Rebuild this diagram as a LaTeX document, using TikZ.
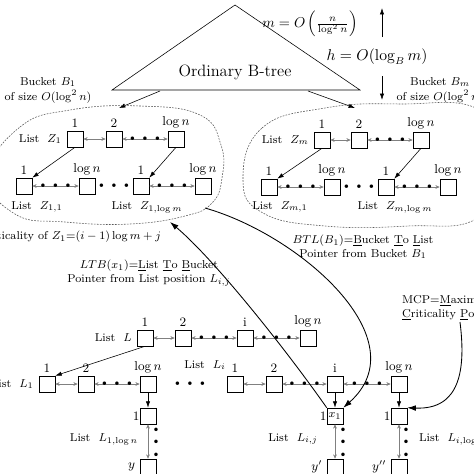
\documentclass[tikz,border=0pt]{standalone}
\usepackage{amsmath, amssymb}
\usetikzlibrary{arrows.meta}
\newcommand{\tdots}{{\tiny$\bullet$\hspace{5pt}$\bullet$\hspace{5pt}$\bullet$}}

\begin{document}
\begin{tikzpicture}[x=0.7pt, y=-0.7pt, font=\footnotesize,
		box/.style={draw, fill=white, minimum size=11.2pt, inner sep=0pt},
		num/.style={font=\small, inner sep=1pt, label distance=1pt},
		link/.style={gray, {Stealth[length=3pt,width=2.6pt]}-{Stealth[length=3pt,width=2.6pt]}},
		dots/.style={text=black, inner sep=0pt},
		ptr/.style={-{Latex[length=4.5pt,width=3pt]}},
		curve/.style={semithick, -{Latex[length=6pt,width=4pt]}},
		blob/.style={gray!70!black, dash pattern=on 1.2pt off 0.9pt}]
		\useasboundingbox (0,0) rectangle (474,474);
		% B-tree and its height
		\coordinate (apex) at (235,5);
		\coordinate (tbl) at (112,90);
		\coordinate (tbr) at (360,90);
		\draw (apex) -- (tbl) -- (tbr) -- cycle;
		\node[font=\fontsize{11.5}{13}\selectfont] (btree) at (235,72) {Ordinary B-tree};
		\node[font=\fontsize{10}{12}\selectfont, inner sep=1pt] (mlbl) at (310,24) {$m=O\left(\frac{n}{\log^2 n}\right)$};
		\node[font=\fontsize{10.5}{12}\selectfont] (hlbl) at (377,57) {$h=O(\log_B m)$};
		\coordinate (hup) at (382,37);
		\coordinate (htop) at (382,8);
		\coordinate (hdn) at (382,76);
		\coordinate (hbot) at (382,100);
		\draw[ptr] (hup) -- (htop);
		\draw[ptr] (hdn) -- (hbot);
		\node[align=center] (b1lbl) at (48,90) {Bucket $B_1$\\[1pt]of size $O(\log^2 n)$};
		\node[align=center] (bmlbl) at (440,90) {Bucket $B_m$\\[1pt]of size $O(\log^2 n)$};
		\coordinate (tl) at (160,91);
		\coordinate (b1in) at (119,108);
		\coordinate (tr) at (308,91);
		\coordinate (bmin) at (355,108);
		\draw[ptr] (tl) -- (b1in);
		\draw[ptr] (tr) -- (bmin);
		% buckets
		\draw[blob] plot[smooth cycle, tension=0.75] coordinates {(-12,175) (20,127) (70,110) (140,106) (200,115) (221,145) (222,178) (212,203) (185,216) (130,224) (65,222) (15,214)};
		\draw[blob] plot[smooth cycle, tension=0.75] coordinates {(243,180) (262,128) (325,108) (400,104) (480,110) (512,165) (478,218) (408,226) (325,226) (263,213)};
		% bucket B_1
		\node[box, label={[num]above:$1$}] (z1a) at (75,139) {};
		\node[box, label={[num]above:$2$}] (z1b) at (114,139) {};
		\node[box, label={[num]above:$\log n$}] (z1c) at (176,139) {};
		\node[left] (z1lbl) at (z1a.west) {List\ \ $Z_1$};
		\node[box, label={[num]above:$1$}] (z11a) at (24,186) {};
		\node[box, label={[num]above:$\log n$}] (z11b) at (87,186) {};
		\node[dots] (z1dots) at (114,186) {\tdots};
		\node[box, label={[num]above:$1$}] (z1ma) at (141,186) {};
		\node[box, label={[num]above:$\log n$}] (z1mb) at (203,186) {};
		\node (z11lbl) at (37,207) {List\ \ $Z_{1,1}$};
		\node (z1mlbl) at (147,207) {List\ \ $Z_{1,\log m}$};
		\draw[link] (z1a) -- (z1b);
		\draw[link] (z1b) -- node[dots] {\tdots} (z1c);
		\draw[link] (z11a) -- node[dots] {\tdots} (z11b);
		\draw[link] (z1ma) -- node[dots] {\tdots} (z1mb);
		\draw[ptr] (z1a.south) -- (z11a.north east);
		\draw[ptr] (z1c.south) -- (z1ma.north east);
		% bucket B_m
		\node[box, label={[num]above:$1$}] (zma) at (322,140) {};
		\node[box, label={[num]above:$2$}] (zmb) at (359,140) {};
		\node[box, label={[num]above:$\log n$}] (zmc) at (421,140) {};
		\node[left] (zmlbl) at (zma.west) {List\ \ $Z_m$};
		\node[box, label={[num]above:$1$}] (zm1a) at (269,187) {};
		\node[box, label={[num]above:$\log n$}] (zm1b) at (332,187) {};
		\node[dots] (zmdots) at (359,187) {\tdots};
		\node[box, label={[num]above:$1$}] (zmma) at (386,187) {};
		\node[box, label={[num]above:$\log n$}] (zmmb) at (448,187) {};
		\node (zm1lbl) at (280,207) {List\ \ $Z_{m,1}$};
		\node (zmmlbl) at (395,207) {List\ \ $Z_{m,\log m}$};
		\draw[link] (zma) -- (zmb);
		\draw[link] (zmb) -- node[dots] {\tdots} (zmc);
		\draw[link] (zm1a) -- node[dots] {\tdots} (zm1b);
		\draw[link] (zmma) -- node[dots] {\tdots} (zmmb);
		\draw[ptr] (zma.south) -- (zm1a.north east);
		\draw[ptr] (zmc.south) -- (zmma.north east);
		% texts
		\node[anchor=east] (crit) at (166,237) {Criticality of $Z_1$=$(i-1)\log m+j$};
		\node[align=center] (ltb) at (149,273) {$LTB(x_1)$=\underline{L}ist \underline{T}o \underline{B}ucket\\Pointer from List position $L_{i,j}$};
		\node[align=center] (btl) at (363,247) {$BTL(B_1)$=\underline{B}ucket \underline{T}o \underline{L}ist\\Pointer from Bucket $B_1$};
		\node[align=left, anchor=west] (mcp) at (397,308) {MCP=\underline{M}aximum\\\underline{C}riticality \underline{P}oint};
		% list L
		\node[box, label={[num]above:$1$}] (la) at (145,338) {};
		\node[box, label={[num]above:$2$}] (lb) at (183,338) {};
		\node[box, label={[num]above:i}] (lc) at (245,338) {};
		\node[box, label={[num]above:$\log n$}] (ld) at (308,338) {};
		\node[left] (llbl) at (la.west) {List\ \ $L$};
		\draw[link] (la) -- (lb);
		\draw[link] (lb) -- node[dots] {\tdots} (lc);
		\draw[link] (lc) -- node[dots] {\tdots} (ld);
		% lists L_1 and L_i
		\node[box, label={[num]above:$1$}] (l1a) at (47,384) {};
		\node[box, label={[num]above:$2$}] (l1b) at (86,384) {};
		\node[box, label={[num]above:$\log n$}] (l1c) at (148,384) {};
		\node[left] (l1lbl) at (l1a.west) {List\ \ $L_1$};
		\node[dots] (ldots) at (190,384) {\tdots};
		\node (lilbl) at (205,365) {List\ \ $L_i$};
		\node[box, label={[num]above:$1$}] (lia) at (235,384) {};
		\node[box, label={[num]above:$2$}] (lib) at (274,384) {};
		\node[box, label={[num]above:i}] (lic) at (335,384) {};
		\node[box, label={[num]above:$\log n$}] (lid) at (399,384) {};
		\draw[ptr] (la.south) -- (l1a.north east);
		\draw[link] (l1a) -- (l1b);
		\draw[link] (l1b) -- node[dots] {\tdots} (l1c);
		\draw[link] (lia) -- (lib);
		\draw[link] (lib) -- node[dots] {\tdots} (lic);
		\draw[link] (lic) -- node[dots] {\tdots} (lid);
		% columns
		\node[box, label={[num, label distance=-1pt]left:1}] (c1) at (148,416) {};
		\node[box, label={[num, label distance=-1pt]left:1}] (ci) at (335,416) {$x_1$};
		\node[box, label={[num, label distance=-1pt]left:1}] (cn) at (399,416) {};
		\node[box, label={[num, label distance=2pt]left:$y$}] (e1) at (148,467) {};
		\node[box, label={[num, label distance=2pt]left:$y'$}] (ei) at (335,467) {};
		\node[box, label={[num, label distance=2pt]left:$y''$}] (en) at (399,467) {};
		\draw[ptr] (l1c) -- (c1);
		\draw[ptr] (lic) -- (ci);
		\draw[ptr] (lid) -- (cn);
		\draw[link] (c1) -- (e1);
		\draw[link] (ci) -- (ei);
		\draw[link] (cn) -- (en);
		\node[dots, rotate=90] (v1) at (156,442) {\tdots};
		\node[dots, rotate=90] (vi) at (343,442) {\tdots};
		\node[dots, rotate=90] (vn) at (406,442) {\tdots};
		\node (c1lbl) at (104,439) {List\ \ $L_{1,\log n}$};
		\node (cilbl) at (293,439) {List\ \ $L_{i,j}$};
		\node[anchor=west] (cnlbl) at (414,439) {List\ \ $L_{i,\log n}$};
		% pointers
		\coordinate (ltbtip) at (170,222);
		\coordinate (btlfoot) at (205,208);
		\coordinate (mcpfoot) at (460,322);
		\draw[curve] (ci.north west) .. controls (287,351) and (215,260) .. (ltbtip);
		\draw[curve] (btlfoot) .. controls (300,235) and (420,340) .. (ci.north east);
		\draw[curve] (mcpfoot) .. controls (466,370) and (460,410) .. (cn.north east);
	\end{tikzpicture}
\end{document}
